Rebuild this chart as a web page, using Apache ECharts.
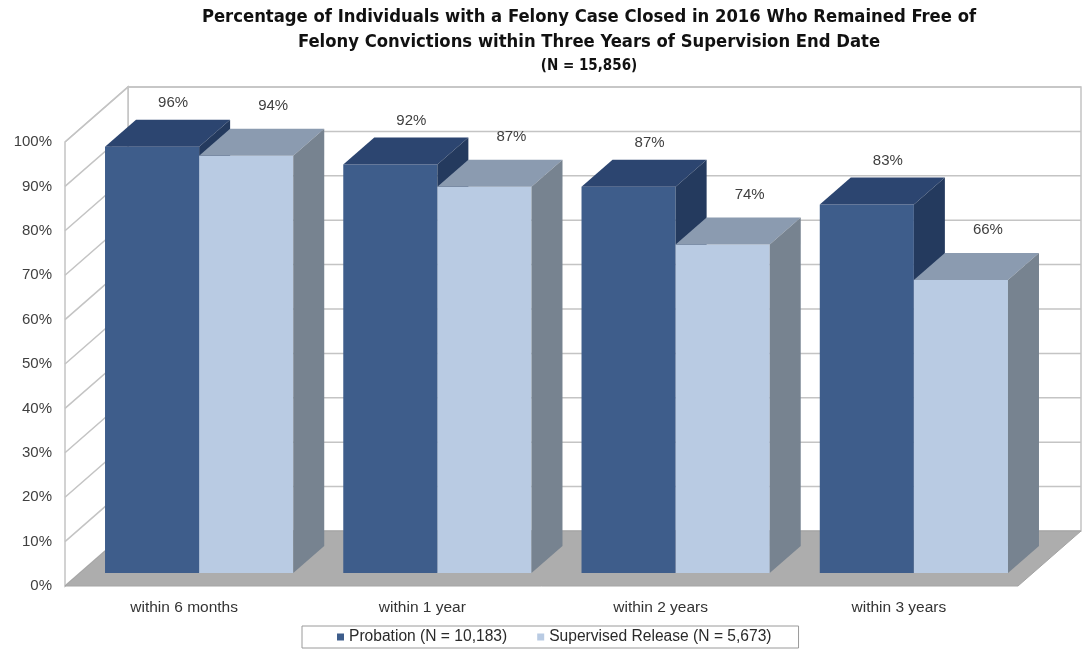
<!DOCTYPE html>
<html>
<head>
<meta charset="utf-8">
<script src="https://cdn.jsdelivr.net/npm/echarts@6/dist/echarts.min.js"></script>
<style>
  html, body { margin: 0; padding: 0; background: #fff; }
  #chart { width: 1082px; height: 651px; }
</style>
</head>
<body>
<div id="chart"></div>
<script>
var categories = ['within 6 months', 'within 1 year', 'within 2 years', 'within 3 years'];
var probation = [96, 92, 87, 83];
var supervised = [94, 87, 74, 66];
var seriesNames = ['Probation (N = 10,183)', 'Supervised Release (N = 5,673)'];
var yTicks = [0, 10, 20, 30, 40, 50, 60, 70, 80, 90, 100];

(function() {
  var chart = echarts.init(document.getElementById('chart'), null, { renderer: 'canvas' });

  // pseudo-3d offsets (px): full depth of the box, bar front and bar back planes
  var DEPTH = [63, -55];
  var FRONT = [15, -13];
  var BACK = [46, -40];
  var BAR_FRAC = 0.395;
  var wallLine = '#c4c4c4';
  var font = 'Liberation Sans, Arial, sans-serif';
  var narrow = 'Liberation Sans Narrow, DejaVu Sans Condensed, Arial Narrow, sans-serif';

  var colors = [
    { front: '#3e5d8b', top: '#2c4570', side: '#243a5e', dx: 21, dy: -17 },
    { front: '#b9cbe3', top: '#8b9bb0', side: '#778390', dx: 27, dy: -23 }
  ];

  function renderWalls(params, api) {
    var cs = params.coordSys;
    var x0 = cs.x, x1 = cs.x + cs.width, yt = cs.y, yb = cs.y + cs.height;
    var dx = DEPTH[0], dy = DEPTH[1];
    var kids = [];
    kids.push({ type: 'rect', shape: { x: x0 + dx, y: yt + dy, width: cs.width, height: cs.height },
      style: { fill: '#fff', stroke: wallLine, lineWidth: 1.5 } });
    kids.push({ type: 'polygon', shape: { points: [[x0, yt], [x0 + dx, yt + dy], [x0 + dx, yb + dy], [x0, yb]] },
      style: { fill: '#fff', stroke: wallLine, lineWidth: 1.5 } });
    yTicks.forEach(function(t) {
      var y = api.coord([0, t])[1];
      kids.push({ type: 'polyline', shape: { points: [[x0, y], [x0 + dx, y + dy], [x1 + dx, y + dy]] },
        style: { fill: null, stroke: wallLine, lineWidth: 1.5 } });
    });
    kids.push({ type: 'polygon', shape: { points: [[x0, yb], [x1, yb], [x1 + dx, yb + dy], [x0 + dx, yb + dy]] },
      style: { fill: '#adadad', stroke: '#a4a4a4', lineWidth: 1 } });
    return { type: 'group', children: kids };
  }

  function makeBar(side) {
    var c = colors[side];
    return function(params, api) {
      var idx = api.value(0), val = api.value(1);
      var base = api.coord([idx, 0]);
      var top = api.coord([idx, val]);
      var bw = api.size([1, 0])[0] * BAR_FRAC;
      var left = side === 0 ? base[0] - bw : base[0];
      var fx = left + FRONT[0];
      var fy0 = base[1] + FRONT[1];
      var fy1 = top[1] + FRONT[1];
      var bdx = BACK[0] - FRONT[0], bdy = BACK[1] - FRONT[1];
      return {
        type: 'group',
        children: [
          { type: 'rect', shape: { x: fx, y: fy1, width: bw, height: fy0 - fy1 }, style: { fill: c.front } },
          { type: 'polygon', shape: { points: [[fx, fy1], [fx + bw, fy1], [fx + bw + bdx, fy1 + bdy], [fx + bdx, fy1 + bdy]] },
            style: { fill: c.top } },
          { type: 'polygon', shape: { points: [[fx + bw, fy1], [fx + bw + bdx, fy1 + bdy], [fx + bw + bdx, fy0 + bdy], [fx + bw, fy0]] },
            style: { fill: c.side } },
          { type: 'text', x: fx + bw / 2 + c.dx, y: fy1 + bdy + c.dy,
            style: { text: val + '%', fill: '#404040', font: '15px ' + font, align: 'center', verticalAlign: 'middle' } }
        ]
      };
    };
  }

  chart.setOption({
    animation: false,
    backgroundColor: '#fff',
    title: {
      text: 'Percentage of Individuals with a Felony Case Closed in 2016 Who Remained Free of\nFelony Convictions within Three Years of Supervision End Date',
      subtext: '(N = 15,856)',
      left: 589,
      textAlign: 'center',
      top: 5,
      padding: 0,
      itemGap: 4,
      textStyle: { fontSize: 18.3, fontWeight: 'bold', color: '#111', lineHeight: 25, fontFamily: narrow },
      subtextStyle: { fontSize: 15, fontWeight: 'bold', color: '#111', fontFamily: narrow }
    },
    legend: {
      data: seriesNames,
      left: 302,
      top: 626,
      icon: 'rect',
      itemWidth: 7,
      itemHeight: 7,
      itemGap: 30,
      padding: [3, 27, 3, 35],
      borderColor: '#9a9a9a',
      borderWidth: 1,
      textStyle: { fontSize: 15.6, color: '#2a2a2a', fontFamily: font }
    },
    grid: { left: 65, right: 64, top: 142, bottom: 65 },
    xAxis: {
      type: 'category',
      data: categories,
      axisLine: { show: false },
      axisTick: { show: false },
      axisLabel: { fontSize: 15.5, color: '#333', margin: 14, fontFamily: font }
    },
    yAxis: {
      type: 'value',
      min: 0,
      max: 100,
      interval: 10,
      axisLine: { show: false },
      axisTick: { show: false },
      splitLine: { show: false },
      axisLabel: { fontSize: 15, color: '#404040', margin: 13, formatter: '{value}%', fontFamily: font }
    },
    series: [
      {
        type: 'custom',
        silent: true,
        renderItem: renderWalls,
        data: [[0, 0]],
        z: 1
      },
      {
        name: seriesNames[0],
        type: 'custom',
        renderItem: makeBar(0),
        itemStyle: { color: colors[0].front },
        data: probation.map(function(v, i) { return [i, v]; }),
        z: 2
      },
      {
        name: seriesNames[1],
        type: 'custom',
        renderItem: makeBar(1),
        itemStyle: { color: colors[1].front },
        data: supervised.map(function(v, i) { return [i, v]; }),
        z: 3
      }
    ]
  });
  window.addEventListener('resize', function() { chart.resize(); });
})();
</script>
</body>
</html>
